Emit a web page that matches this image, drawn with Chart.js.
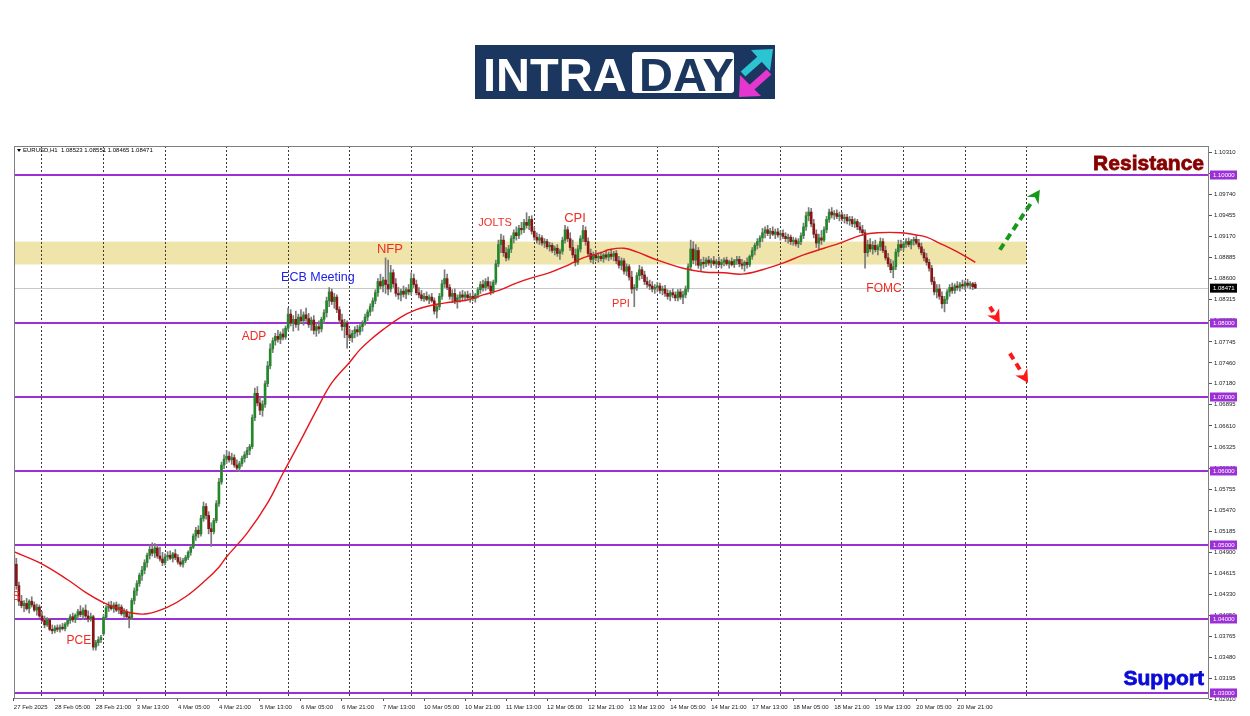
<!DOCTYPE html>
<html>
<head>
<meta charset="utf-8">
<title>EURUSD H1</title>
<script src="https://cdn.jsdelivr.net/npm/chart.js@4.4.1/dist/chart.umd.min.js"></script>
<style>
  html, body { margin: 0; padding: 0; background: #fff; }
  #wrap { position: relative; width: 1250px; height: 716px; overflow: hidden; }
  #chart { position: absolute; left: 0; top: 0; }
  .logo { position: absolute; left: 475px; top: 45px; width: 300px; height: 54px; background: #1b365f; z-index: 2; }
  .logo .intra { position: absolute; left: 8px; top: 6px; font: bold 47px "Liberation Sans", Arial, sans-serif; line-height: 47px; color: #fff; }
  .logo .daybox { position: absolute; left: 157px; top: 7px; width: 102px; height: 41px; background: #fff; border-radius: 3px; }
  .logo .day { position: absolute; left: 7px; top: -1px; font: bold 47px "Liberation Sans", Arial, sans-serif; line-height: 47px; color: #1b365f; }
  .logo svg { position: absolute; left: 262px; top: 3px; }
</style>
</head>
<body>
<div id="wrap">
  <canvas id="chart" width="1250" height="716"></canvas>
  <div class="logo">
    <span class="intra">INTRA</span>
    <div class="daybox"><span class="day">DAY</span></div>
    <svg width="38" height="50" viewBox="0 0 38 50">
      <line x1="6" y1="26" x2="24" y2="10" stroke="#2cc3d3" stroke-width="7"/>
      <polygon points="14,2 36,1 33,23" fill="#2cc3d3"/>
      <line x1="32" y1="24" x2="14" y2="40" stroke="#e536cf" stroke-width="7"/>
      <polygon points="3,27 2,49 24,48" fill="#e536cf"/>
    </svg>
  </div>
</div>
<script>
// EURUSD H1, 27 Feb 13:00 .. 21 Mar 04:00 (bar index = hour bar)
// prices stored in pips above 1.0000 (0.0001 each)
const PIP = 0.0001;

const opens = [
  486,474,445,424,418,421,414,424,419,412,
  416,404,398,392,399,386,384,388,386,389,
  387,393,398,403,399,405,410,406,412,404,
  400,403,362,368,372,380,402,415,418,414,
  419,412,416,407,410,403,401,425,438,448,
  459,466,476,486,494,489,496,485,481,476,
  484,486,482,488,483,477,474,479,483,490,
  497,512,520,515,536,552,540,522,518,533,
  556,585,608,616,620,615,618,608,604,610,
  617,622,628,633,672,705,692,682,690,718,
  742,765,776,782,778,785,781,793,812,800,
  805,798,808,803,811,806,798,804,790,795,
  792,805,814,830,842,829,835,818,804,795,
  800,784,780,786,791,788,795,800,808,815,
  822,830,841,856,850,858,852,846,868,853,
  840,838,843,839,845,842,860,852,841,838,
  833,836,832,835,830,816,822,836,853,860,
  848,836,840,830,834,838,835,838,834,836,
  833,838,845,852,848,856,850,843,855,880,
  906,912,895,888,900,914,922,918,928,926,
  936,932,940,924,916,912,915,908,910,903,
  905,898,901,894,897,912,926,914,902,892,
  882,900,914,925,910,894,886,892,888,890,
  887,892,889,893,890,894,884,878,884,870,
  876,862,846,848,864,872,865,856,852,850,
  846,848,850,844,846,840,836,841,838,834,
  842,835,838,846,876,900,885,898,878,882,
  880,885,881,884,880,883,879,882,885,880,
  883,879,884,886,880,878,882,879,890,898,
  905,910,915,922,926,921,924,920,923,919,
  921,917,914,916,910,912,907,910,918,930,
  945,950,934,920,908,915,912,926,940,950,
  946,948,944,946,941,943,938,940,934,937,
  930,926,922,895,906,900,905,899,903,910,
  898,888,880,872,876,896,906,902,907,910,
  906,911,913,908,903,895,888,882,874,856,
  842,846,836,826,832,842,848,844,850,848,
  852,850,854,851,853,852.3
];
const highs = [
  489,482,450,432,425,428,426,430,423,420,
  419,410,404,402,401,392,391,392,392,394,
  395,400,406,408,407,413,418,415,419,411,
  408,405,371,376,378,405,418,423,424,422,
  423,420,419,414,413,408,428,442,452,462,
  471,480,489,500,503,502,500,497,490,488,
  491,492,490,494,487,483,482,486,492,500,
  515,524,526,540,558,556,545,530,536,560,
  590,612,622,628,626,624,622,615,613,620,
  626,632,636,676,712,714,700,695,722,748,
  772,780,786,790,788,792,796,820,818,810,
  816,812,818,815,820,813,808,810,800,803,
  808,818,835,848,846,840,838,822,812,805,
  803,792,790,795,797,798,803,812,818,826,
  834,845,860,866,862,888,885,878,872,860,
  848,846,850,848,852,868,866,858,848,844,
  840,842,838,840,834,826,840,858,872,866,
  852,845,846,838,842,844,842,843,840,842,
  840,848,856,858,860,862,856,858,885,912,
  920,918,902,905,918,926,930,932,936,940,
  949,944,945,930,922,920,918,914,913,909,
  908,904,906,900,916,932,930,922,912,900,
  905,918,932,930,915,900,896,898,895,896,
  894,898,896,900,897,898,890,888,887,880,
  879,870,852,868,878,876,870,862,858,856,
  852,855,854,850,851,845,844,846,842,845,
  846,843,850,880,912,910,906,902,886,889,
  888,890,887,890,886,889,886,888,889,885,
  888,886,890,890,886,884,888,892,902,908,
  914,918,928,930,932,928,930,927,928,925,
  926,922,920,919,916,915,914,922,935,950,
  956,955,940,926,920,925,930,944,954,956,
  952,953,950,950,947,947,944,944,941,940,
  936,932,926,912,914,910,912,906,915,914,
  904,894,886,884,900,912,912,910,914,915,
  913,916,918,913,908,900,894,886,878,862,
  852,852,842,836,845,852,854,853,856,855,
  858,857,859,856,855,855.1
];
const lows = [
  472,440,418,415,410,412,408,416,410,405,
  402,396,388,390,384,380,381,383,382,385,
  384,390,394,396,395,400,403,399,402,396,
  397,358,358,364,368,378,400,410,412,409,
  410,407,405,402,400,388,399,420,432,444,
  452,461,470,481,485,483,482,478,472,473,
  479,480,477,480,474,471,470,476,480,486,
  495,506,510,512,532,535,515,498,515,530,
  552,582,603,610,612,609,605,600,599,606,
  612,618,622,630,668,688,676,674,686,714,
  738,760,770,774,772,777,778,790,796,789,
  794,790,800,797,802,794,790,785,782,786,
  788,800,808,822,825,820,814,800,790,780,
  766,776,774,780,782,784,789,797,803,810,
  816,826,836,846,842,840,838,842,848,836,
  832,830,835,833,838,838,848,838,834,830,
  829,830,826,828,812,807,818,832,848,845,
  832,828,826,820,828,830,830,832,828,830,
  828,834,840,843,844,846,838,840,852,876,
  895,890,884,885,895,908,912,914,920,922,
  928,926,920,912,908,906,905,902,900,897,
  895,892,890,886,893,908,910,898,888,877,
  879,896,910,905,890,882,880,884,882,884,
  882,886,884,886,884,880,874,872,866,864,
  858,840,822,844,858,860,852,848,845,842,
  840,842,840,838,836,832,830,834,830,830,
  832,826,834,842,872,880,878,874,870,874,
  876,878,875,878,874,876,874,877,878,874,
  877,875,879,876,873,870,874,876,886,892,
  900,902,910,915,918,914,918,914,916,912,
  914,910,908,906,905,904,902,906,914,925,
  938,930,915,902,900,906,910,922,936,942,
  940,941,938,938,935,934,932,930,929,926,
  922,918,874,890,896,893,896,892,898,895,
  885,876,868,861,872,890,898,898,902,903,
  900,905,906,900,892,884,878,870,852,838,
  834,832,820,815,826,836,840,840,844,843,
  846,845,848,846,845,846.5
];
const closes = [
  474,445,424,418,421,414,424,419,412,416,
  404,398,392,399,386,384,388,386,389,387,
  393,398,403,399,405,410,406,412,404,400,
  403,362,368,372,375,402,415,418,414,419,
  412,416,407,410,403,401,425,438,448,459,
  466,476,486,494,489,496,485,481,476,484,
  486,482,488,483,477,474,479,483,490,497,
  512,520,515,536,552,540,522,518,533,556,
  585,608,616,620,615,618,608,604,610,617,
  622,628,633,672,705,692,682,690,718,742,
  765,776,782,778,785,781,793,812,800,805,
  798,808,803,811,806,798,804,790,795,792,
  805,814,830,842,829,835,818,804,795,800,
  784,780,786,791,788,795,800,808,815,822,
  830,841,856,850,858,852,846,868,853,840,
  838,843,839,845,842,860,852,841,838,833,
  836,832,835,830,816,822,836,853,860,848,
  836,840,830,834,838,835,838,834,836,833,
  838,845,852,848,856,850,843,855,880,906,
  912,895,888,900,914,922,918,928,926,936,
  932,940,924,916,912,915,908,910,903,905,
  898,901,894,897,912,926,914,902,892,882,
  900,914,925,910,894,886,892,888,890,887,
  892,889,893,890,894,884,878,884,870,876,
  862,846,848,864,872,865,856,852,850,846,
  848,850,844,846,840,836,841,838,834,842,
  835,838,846,876,900,885,898,878,882,880,
  885,881,884,880,883,879,882,885,880,883,
  879,884,886,880,878,882,879,890,898,905,
  910,915,922,926,921,924,920,923,919,921,
  917,914,916,910,912,907,910,918,930,945,
  950,934,920,908,915,912,926,940,950,946,
  948,944,946,941,943,938,940,934,937,930,
  926,922,895,906,900,905,899,903,910,898,
  888,880,872,876,896,906,902,907,910,906,
  911,913,908,903,895,888,882,874,856,842,
  846,836,826,832,842,848,844,850,848,852,
  850,854,851,853,849,847.1
];

// moving average (red)
const maBars = [0,10,21,28,35,40,46,52,60,67,75,80,83,91,99,105,112,118,124,131,135,139,144,151,157,163,170,177,183,190,196,202,209,216,222,229,232,238,243,251,261,269,277,284,292,300,308,316,323,331,337,346,352,356,361,368,375];
const maPips = [491,476,453,436,422,415,408,407,416,430,453,470,484,516,557,597,642,682,719,747,764,777,791,808,818,824,828,831,838,845,854,861,868,878,888,895,899,901,896,885,874,869,868,866,872,881,892,901,909,919,922,922,919,916,908,896,882];

// time axis
const timeLabelBars = [0,16,32,48,64,80,96,112,128,144,160,176,192,208,224,240,256,272,288,304,320,336,352,368];
const timeLabels = ["27 Feb 2025","28 Feb 05:00","28 Feb 21:00","3 Mar 13:00","4 Mar 05:00","4 Mar 21:00","5 Mar 13:00","6 Mar 05:00","6 Mar 21:00","7 Mar 13:00","10 Mar 05:00","10 Mar 21:00","11 Mar 13:00","12 Mar 05:00","12 Mar 21:00","13 Mar 13:00","14 Mar 05:00","14 Mar 21:00","17 Mar 13:00","18 Mar 05:00","18 Mar 21:00","19 Mar 13:00","20 Mar 05:00","20 Mar 21:00"];
const dayStartBars = [11,35,59,83,107,131,155,179,203,227,251,275,299,323,347,371,395];

// price axis
const priceTicks = [1.02910,1.03195,1.03480,1.03765,1.04050,1.04330,1.04615,1.04900,1.05185,1.05470,1.05755,1.06040,1.06325,1.06610,1.06895,1.07180,1.07460,1.07745,1.08030,1.08315,1.08600,1.08885,1.09170,1.09455,1.09740,1.10025,1.10310];
const levels = [1.10, 1.08, 1.07, 1.06, 1.05, 1.04, 1.03];
const zoneLow = 1.0879, zoneHigh = 1.0910, zoneEndBar = 395;
const lastPrice = 1.08471;
const header = "EURUSD,H1  1.08523 1.08551 1.08465 1.08471";

// notes on the chart
const events = [
  { text: "S", bar: 0.9, price: 1.0430, color: "#ee2d24", size: 12 },
  { text: "PCE", bar: 25.4, price: 1.0370, color: "#ee2d24", size: 12 },
  { text: "ADP", bar: 93.7, price: 1.0781, color: "#ee2d24", size: 12 },
  { text: "ECB Meeting", bar: 118.6, price: 1.0862, color: "#2121e6", size: 12.5 },
  { text: "NFP", bar: 146.7, price: 1.0900, color: "#ee2d24", size: 13 },
  { text: "JOLTS", bar: 187.7, price: 1.0935, color: "#ee2d24", size: 11 },
  { text: "CPI", bar: 218.9, price: 1.0942, color: "#ee2d24", size: 13 },
  { text: "PPI", bar: 236.8, price: 1.0826, color: "#ee2d24", size: 11 },
  { text: "FOMC", bar: 339.4, price: 1.0846, color: "#ee2d24", size: 12 }
];
const arrows = [
  { from: [384.6, 1.0899], to: [400.2, 1.0980], color: "#16991b" },
  { from: [380.7, 1.0822], to: [384.6, 1.0800], color: "#ff1717" },
  { from: [388.5, 1.0759], to: [395.6, 1.0719], color: "#ff1717" }
];

const UP = "#22892a", DOWN = "#8a1414", WICK = "#7a7a7a";
const toPrice = p => 1 + p * PIP;

const bodies = opens.map((o, i) => ({ x: i, y: [toPrice(o), toPrice(closes[i])] }));
const wicks = lows.map((l, i) => ({ x: i, y: [toPrice(l), toPrice(highs[i])] }));
const bodyColors = closes.map((c, i) => (c >= opens[i] ? UP : DOWN));
const maLine = maBars.map((b, i) => ({ x: b, y: toPrice(maPips[i]) }));

function drawArrow(ctx, x1, y1, x2, y2, color) {
  const ang = Math.atan2(y2 - y1, x2 - x1);
  const head = 13;
  const bx = x2 - Math.cos(ang) * head, by = y2 - Math.sin(ang) * head;
  ctx.strokeStyle = color;
  ctx.lineWidth = 4;
  ctx.setLineDash([7, 5]);
  ctx.beginPath();
  ctx.moveTo(x1, y1);
  ctx.lineTo(bx, by);
  ctx.stroke();
  ctx.setLineDash([]);
  const nx = Math.cos(ang + Math.PI / 2) * 7, ny = Math.sin(ang + Math.PI / 2) * 7;
  ctx.fillStyle = color;
  ctx.beginPath();
  ctx.moveTo(x2, y2);
  ctx.lineTo(bx + nx, by + ny);
  ctx.lineTo(bx + Math.cos(ang) * 4, by + Math.sin(ang) * 4);
  ctx.lineTo(bx - nx, by - ny);
  ctx.closePath();
  ctx.fill();
}

const overlay = {
  id: "overlay",
  beforeDraw(chart) {
    const { ctx, chartArea: a, scales: { x, y } } = chart;
    ctx.save();
    ctx.fillStyle = "#efe5aa";
    const y1 = y.getPixelForValue(zoneHigh), y2 = y.getPixelForValue(zoneLow);
    ctx.fillRect(a.left, y1, x.getPixelForValue(zoneEndBar) - a.left, y2 - y1);
    ctx.restore();
  },
  beforeDatasetsDraw(chart) {
    const { ctx, chartArea: a, scales: { y } } = chart;
    ctx.save();
    ctx.strokeStyle = "#c8c8c8";
    ctx.lineWidth = 1;
    const yp = Math.round(y.getPixelForValue(lastPrice)) + 0.5;
    ctx.beginPath(); ctx.moveTo(a.left, yp); ctx.lineTo(a.right, yp); ctx.stroke();
    ctx.strokeStyle = "#9b30d6";
    ctx.lineWidth = 2;
    levels.forEach(v => {
      const ly = Math.round(y.getPixelForValue(v));
      ctx.beginPath(); ctx.moveTo(a.left, ly); ctx.lineTo(a.right, ly); ctx.stroke();
    });
    ctx.restore();
  },
  afterDraw(chart) {
    const { ctx, chartArea: a, scales: { x, y } } = chart;
    ctx.save();
    // frame
    ctx.strokeStyle = "#808080";
    ctx.lineWidth = 1;
    ctx.strokeRect(a.left + 0.5, a.top + 0.5, a.right - a.left - 1, a.bottom - a.top);

    // level boxes on the price axis
    ctx.font = "6px 'Liberation Sans', Arial";
    ctx.textBaseline = "middle";
    ctx.textAlign = "left";
    levels.forEach(v => {
      const ly = y.getPixelForValue(v);
      ctx.fillStyle = "#9b30d6";
      ctx.fillRect(a.right + 1, ly - 4.5, 27, 9);
      ctx.fillStyle = "#fff";
      ctx.fillText(v.toFixed(5), a.right + 4, ly);
    });
    const lp = y.getPixelForValue(lastPrice);
    ctx.fillStyle = "#000";
    ctx.fillRect(a.right + 1, lp - 4.5, 27, 9);
    ctx.fillStyle = "#fff";
    ctx.fillText(lastPrice.toFixed(5), a.right + 4, lp);

    // header
    ctx.fillStyle = "#000";
    ctx.beginPath();
    ctx.moveTo(a.left + 3, a.top + 3); ctx.lineTo(a.left + 7, a.top + 3); ctx.lineTo(a.left + 5, a.top + 6);
    ctx.fill();
    ctx.fillText(header, a.left + 9, a.top + 4.5);

    // event notes
    ctx.save();
    ctx.beginPath();
    ctx.rect(a.left, a.top, a.right - a.left, a.bottom - a.top);
    ctx.clip();
    ctx.textAlign = "center";
    events.forEach(e => {
      ctx.font = e.size + "px 'Liberation Sans', Arial";
      ctx.fillStyle = e.color;
      ctx.fillText(e.text, x.getPixelForValue(e.bar), y.getPixelForValue(e.price));
    });
    ctx.restore();

    // arrows
    arrows.forEach(r => {
      drawArrow(ctx, x.getPixelForValue(r.from[0]), y.getPixelForValue(r.from[1]),
        x.getPixelForValue(r.to[0]), y.getPixelForValue(r.to[1]), r.color);
    });

    // resistance / support
    ctx.textAlign = "right";
    ctx.textBaseline = "alphabetic";
    ctx.font = "bold 21px 'Liberation Sans', Arial";
    ctx.lineWidth = 0.8;
    ctx.fillStyle = ctx.strokeStyle = "#870000";
    ctx.fillText("Resistance", a.right - 5, a.top + 24);
    ctx.strokeText("Resistance", a.right - 5, a.top + 24);
    ctx.fillStyle = ctx.strokeStyle = "#0b0bd6";
    ctx.fillText("Support", a.right - 5, a.bottom - 13);
    ctx.strokeText("Support", a.right - 5, a.bottom - 13);
    ctx.restore();
  }
};

new Chart(document.getElementById("chart"), {
  type: "bar",
  data: {
    datasets: [
      { type: "bar", label: "wick", data: wicks, backgroundColor: WICK, grouped: false,
        barThickness: 1, maxBarThickness: 1, order: 2 },
      { type: "bar", label: "body", data: bodies, backgroundColor: bodyColors, grouped: false,
        barThickness: 2, maxBarThickness: 2, minBarLength: 1, order: 1 },
      { type: "line", label: "MA", data: maLine, borderColor: "#e5161c", borderWidth: 1.4,
        pointRadius: 0, tension: 0.4, fill: false, order: 0 }
    ]
  },
  options: {
    responsive: false,
    animation: false,
    devicePixelRatio: 1,
    layout: { padding: { left: 14, top: 146, right: 0, bottom: 0 } },
    plugins: { legend: { display: false }, tooltip: { enabled: false } },
    scales: {
      x: {
        type: "linear", position: "bottom", min: 0.08, max: 466.15, offset: false,
        afterBuildTicks: s => { s.ticks = timeLabelBars.map(v => ({ value: v })); },
        afterFit: s => { s.height = 18; },
        grid: { drawOnChartArea: false, drawTicks: true, tickLength: 3, color: "#555", offset: false },
        border: { display: false },
        ticks: {
          autoSkip: false, maxRotation: 0, align: "start", padding: 3, color: "#222",
          font: { size: 6, family: "'Liberation Sans', Arial" },
          callback: (v, i) => timeLabels[i]
        }
      },
      xDays: {
        type: "linear", position: "bottom", min: 0.08, max: 466.15, offset: false,
        afterBuildTicks: s => { s.ticks = dayStartBars.map(v => ({ value: v })); },
        afterFit: s => { s.height = 0; },
        grid: { drawOnChartArea: true, drawTicks: false, color: "#3a3a3a", lineWidth: 1, offset: false },
        border: { display: false, dash: [2, 2] },
        ticks: { display: false }
      },
      y: {
        type: "linear", position: "right", min: 1.02932, max: 1.10392,
        afterBuildTicks: s => { s.ticks = priceTicks.map(v => ({ value: v })); },
        afterFit: s => { s.width = 41; },
        grid: { drawOnChartArea: false, drawTicks: true, tickLength: 3, color: "#555" },
        border: { display: false },
        ticks: {
          autoSkip: false, padding: 2, color: "#222",
          font: { size: 6, family: "'Liberation Sans', Arial" },
          callback: v => v.toFixed(5)
        }
      }
    }
  },
  plugins: [overlay]
});
</script>
</body>
</html>
